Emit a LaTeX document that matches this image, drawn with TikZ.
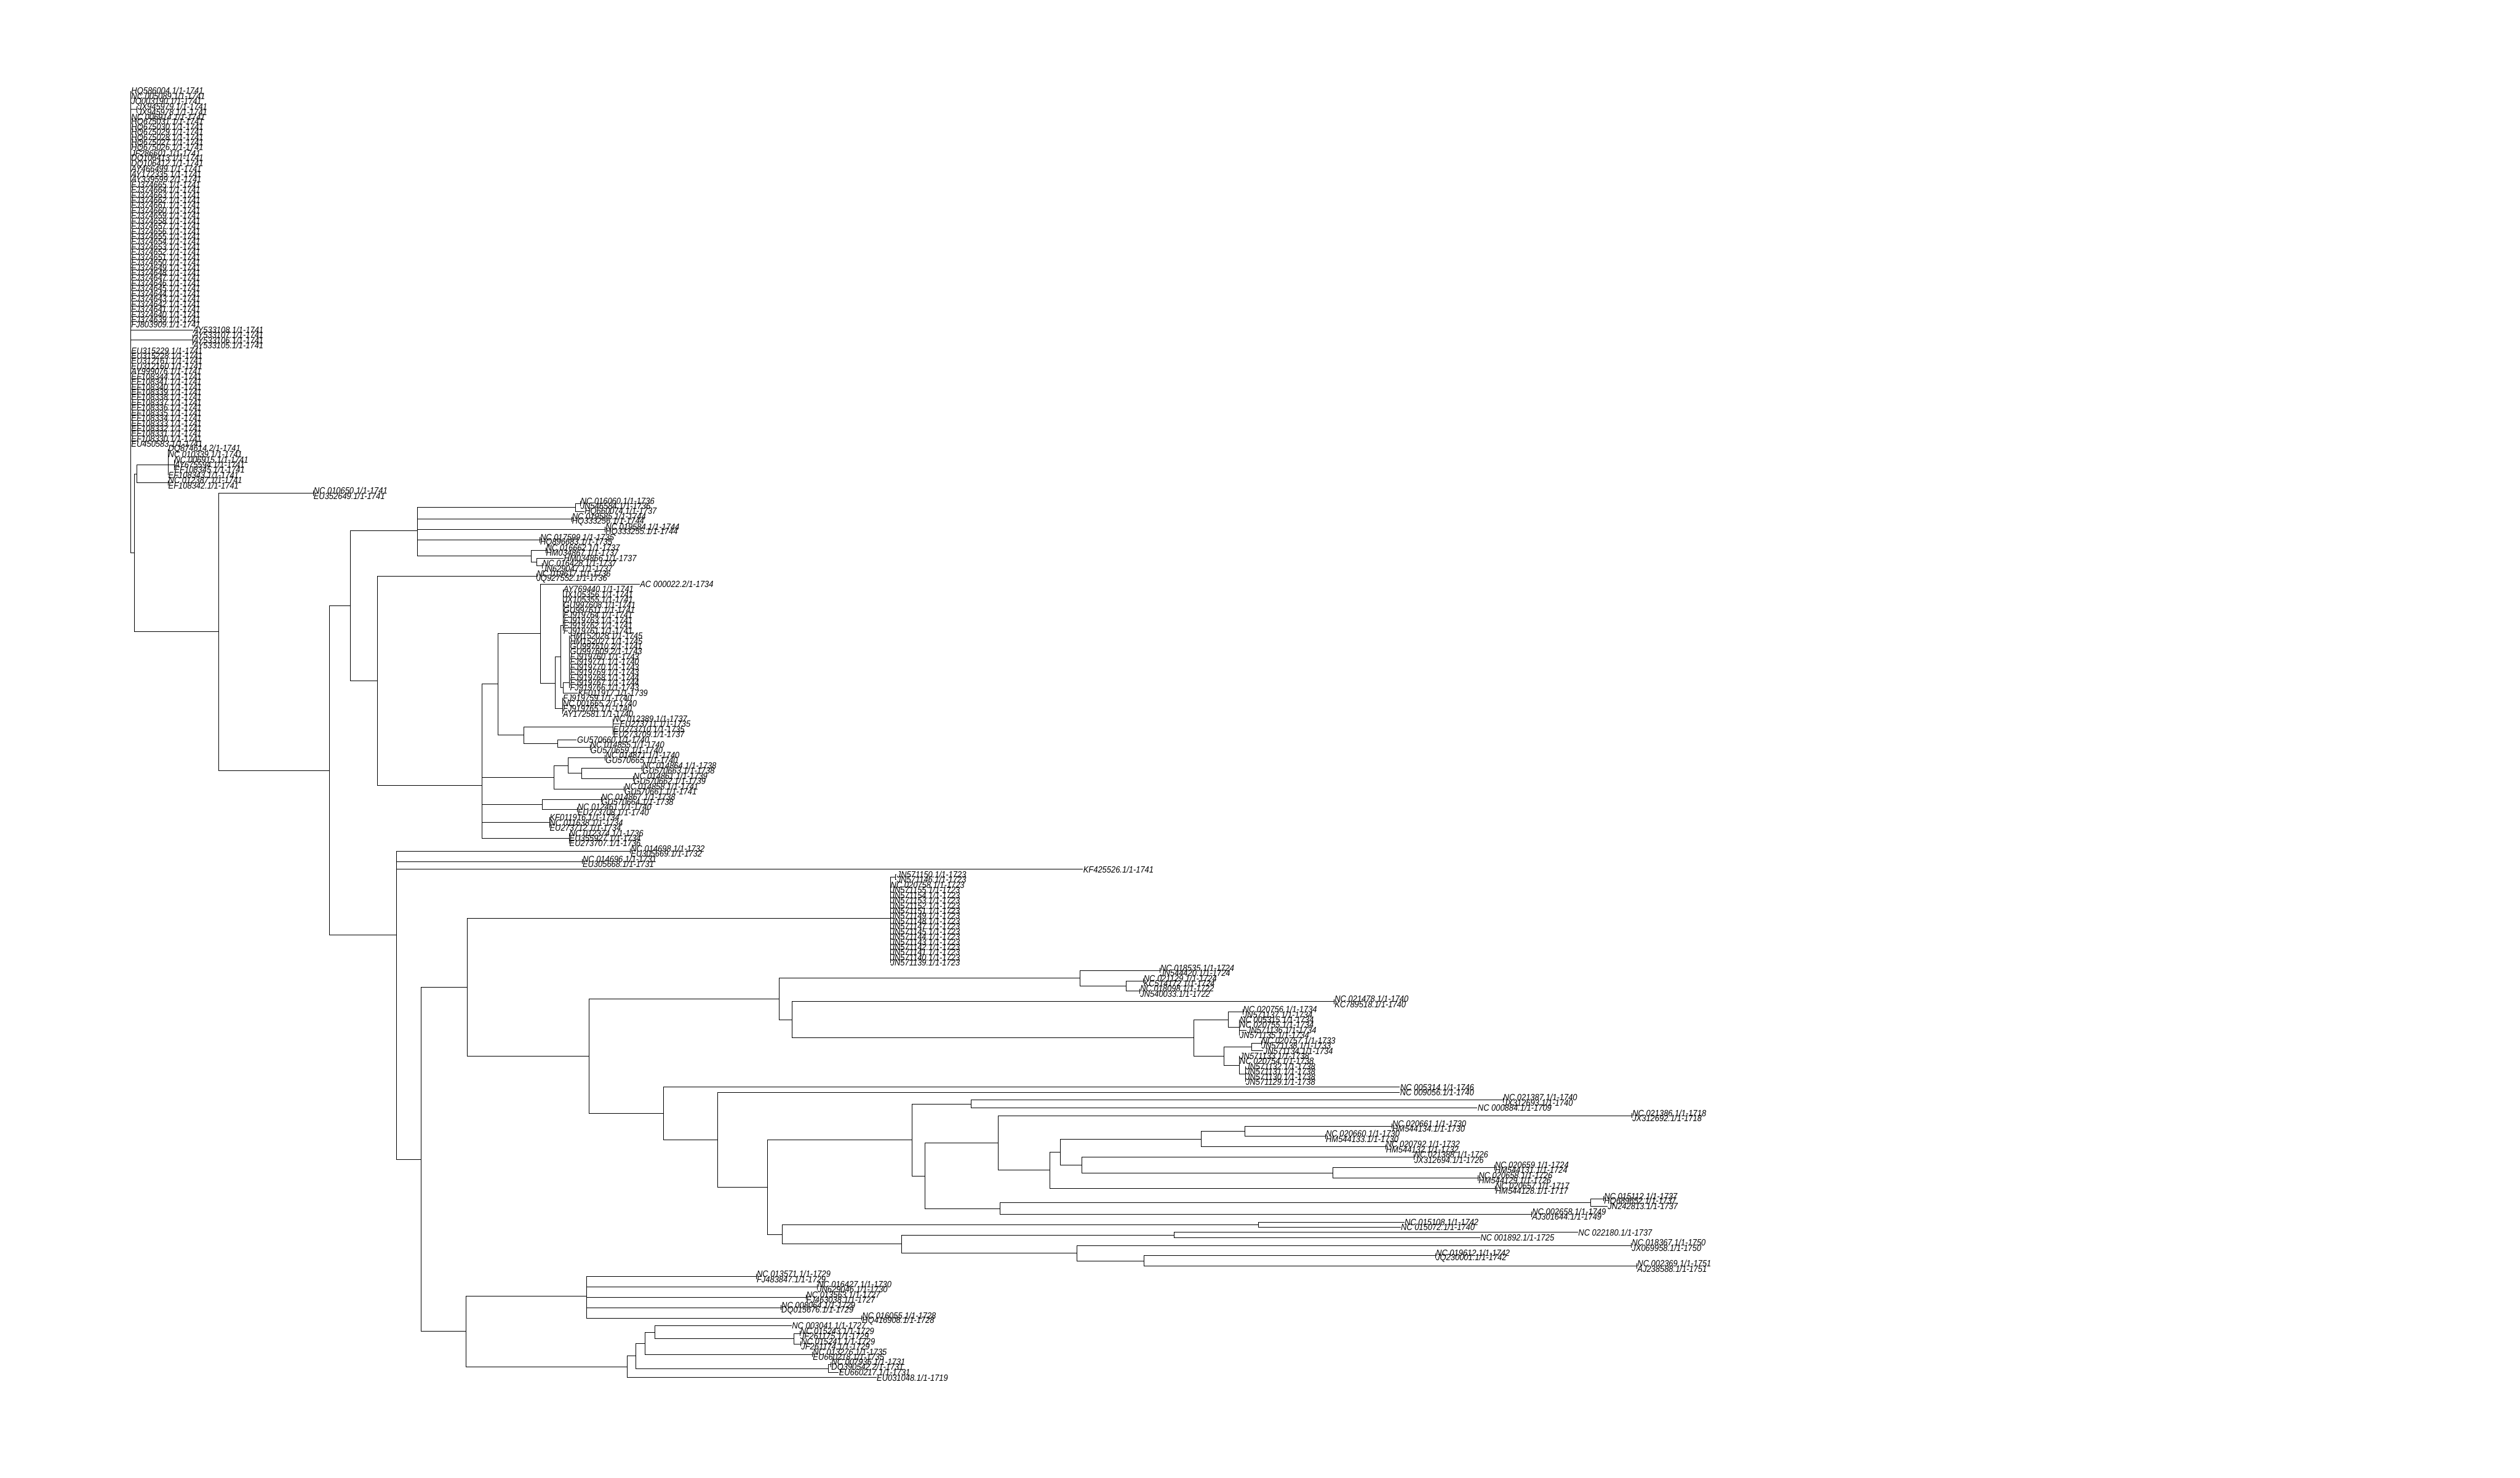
\documentclass[tikz,border=0pt]{standalone}
\usepackage{fontspec}
\newfontfamily\tipfont[FakeStretch=0.88]{Liberation Sans}
\usetikzlibrary{positioning}
\tikzset{
  branch/.style={draw=black,line width=0.3pt},
  leaf/.style={anchor=west,inner sep=0pt,font=\tipfont\itshape\fontsize{5.1}{5.5}\selectfont},
}
% inner node #1 with parent #2 at (#3,#4); tips #4 of \leafrow start at row #3
\newcommand{\cladeat}[4]{\coordinate (#1) at (#3,#4); \draw[branch] (#2) |- (#1);}
\newcommand{\leafrow}[4]{%
  \foreach \lab [count=\k from #3] in {#4} {
    \node[leaf] (t\k) at (#2,\k) {\lab};
    \draw[branch] (#1) |- (t\k.west);
  }}
\begin{document}
\begin{tikzpicture}[x=0.01cm,y=-0.1029cm]
\useasboundingbox (0cm,0cm) rectangle (50cm,-29.31cm);
\begin{scope}[yshift=-1.7071cm]
% top block
\coordinate (root) at (259.6,62.5);
\cladeat{nA}{root}{260}{35}
\leafrow{nA}{260}{1}{HQ586004.1/1-1741,NC 005089.1/1-1741,JQ003190.1/1-1741}
\cladeat{nJX}{nA}{271.7}{4.5}
\leafrow{nJX}{273}{4}{JX945979.1/1-1741,JX945978.1/1-1741}
\leafrow{nA}{260}{6}{NC 006914.1/1-1741,HQ675031.1/1-1741,HQ675030.1/1-1741,HQ675029.1/1-1741,HQ675028.1/1-1741,HQ675027.1/1-1741,HQ675026.1/1-1741,JF286601.1/1-1741,DQ106413.1/1-1741,DQ106412.1/1-1741,AY466499.1/1-1741,AY172335.1/1-1741,AY339599.2/1-1741}
\foreach \fj [count=\k from 19] in {665,664,...,639} {
  \node[leaf] (t\k) at (260,\k) {FJ374\fj.1/1-1741};
  \draw[branch] (nA) |- (t\k.west);
}
\leafrow{nA}{260}{46}{FJ803909.1/1-1741}
\leafrow{nA}{383}{47}{AY533108.1/1-1741}
\cladeat{nAY}{nA}{383}{49}
\leafrow{nAY}{383}{48}{AY533107.1/1-1741,AY533106.1/1-1741,AY533105.1/1-1741}
\leafrow{nA}{260}{51}{EU315229.1/1-1741,EU315228.1/1-1741,EU312161.1/1-1741,EU312160.1/1-1741,AY999076.1/1-1741,EF108344.1/1-1741,EF108341.1/1-1741}
\foreach \ef [count=\k from 58] in {340,339,...,330} {
  \node[leaf] (t\k) at (260,\k) {EF108\ef.1/1-1741};
  \draw[branch] (nA) |- (t\k.west);
}
\leafrow{nA}{260}{69}{EU450583.1/1-1741}
\cladeat{nB}{root}{266.8}{89.98}
\cladeat{nC}{nB}{272}{74.75}
\cladeat{nG}{nC}{333.6}{73}
\leafrow{nG}{333.6}{70}{DQ874614.2/1-1741,NC 010339.1/1-1741}
\cladeat{nF}{nG}{345.7}{73}
\leafrow{nF}{345.7}{72}{NC 006915.1/1-1741,AY675594.1/1-1741,EF108345.1/1-1741}
\leafrow{nG}{333.6}{75}{EF108343.1/1-1741}
\cladeat{nH}{nC}{333.6}{76.5}
\leafrow{nH}{333.6}{76}{NC 012387.1/1-1741,EF108342.1/1-1741}
% main clade
\cladeat{nR}{nB}{434}{105.2}
\cladeat{nP10650}{nR}{622}{78.5}
\leafrow{nP10650}{622}{78}{NC 010650.1/1-1741,EU352649.1/1-1741}
\cladeat{nR2}{nR}{654}{131.95}
\cladeat{nT}{nR2}{695}{100.2}
\cladeat{nT1}{nT}{829}{85.7}
\cladeat{nK1}{nT1}{1142.7}{81.25}
\cladeat{nP16060}{nK1}{1152}{80.5}
\leafrow{nP16060}{1152}{80}{NC 016060.1/1-1736,JN546584.1/1-1736}
\leafrow{nK1}{1160}{82}{HQ660074.1/1-1737}
\cladeat{nP19585}{nT1}{1135}{83.5}
\leafrow{nP19585}{1135}{83}{NC 019585.1/1-1744,HQ333256.1/1-1744}
\cladeat{nP19584}{nT1}{1201.7}{85.5}
\leafrow{nP19584}{1201.7}{85}{NC 019584.1/1-1744,HQ333255.1/1-1744}
\cladeat{nP17599}{nT1}{1071.7}{87.5}
\leafrow{nP17599}{1071.7}{87}{NC 017599.1/1-1735,HQ896683.1/1-1735}
\cladeat{n1055}{nT1}{1055}{90.6}
\cladeat{nP16662}{n1055}{1083.3}{89.5}
\leafrow{nP16662}{1083.3}{89}{NC 016662.1/1-1737,HM034867.1/1-1737}
\cladeat{n1066}{n1055}{1066}{91.75}
\leafrow{n1066}{1119}{91}{HM034866.1/1-1737}
\cladeat{nP16428}{n1066}{1076.7}{92.5}
\leafrow{nP16428}{1076.7}{92}{NC 016428.1/1-1737,JN629047.1/1-1737}
\cladeat{nT2}{nT}{749}{114.65}
\cladeat{nP19617}{nT2}{1065}{94.5}
\leafrow{nP19617}{1065}{94}{NC 019617.1/1-1736,JQ927552.1/1-1736}
\cladeat{nT3}{nT2}{957}{134.8}
\cladeat{nN1}{nT3}{989}{115.3}
\cladeat{nM}{nN1}{1073}{105.55}
\leafrow{nM}{1270}{96}{AC 000022.2/1-1734}
\cladeat{nQ}{nM}{1102.3}{115.1}
\cladeat{nQ1}{nQ}{1112.7}{110}
\cladeat{nQ1a}{nQ1}{1118}{104}
\leafrow{nQ1a}{1118}{97}{AY769440.1/1-1741,JX105356.1/1-1741,JX105355.1/1-1741,GU997608.1/1-1741,GU997611.1/1-1741,FJ919764.1/1-1741,FJ919763.1/1-1741,FJ919762.1/1-1741,FJ919761.1/1-1741}
\cladeat{nQ1b}{nQ1}{1118.3}{116}
\cladeat{nQ1c}{nQ1b}{1130}{115}
\leafrow{nQ1c}{1131}{106}{HM152028.1/1-1745,HM152027.1/1-1745,GU997610.2/1-1741,GU997609.2/1-1743,FJ919760.1/1-1743,FJ919771.1/1-1740,FJ919770.1/1-1743,FJ919769.1/1-1743,FJ919768.1/1-1744,FJ919767.1/1-1744,FJ919766.1/1-1743}
\leafrow{nQ1b}{1147}{117}{KF011917.1/1-1739}
\cladeat{nQ2}{nQ}{1116.7}{120}
\leafrow{nQ2}{1117}{118}{FJ919759.1/1-1740,NC 001665.2/1-1740,FJ919765.1/1-1740,AY172581.1/1-1740}
\cladeat{nN1b}{nN1}{1040}{125.1}
\cladeat{nP12389}{nN1b}{1216.7}{123.5}
\leafrow{nP12389}{1217}{122}{NC 012389.1/1-1737}
\leafrow{nP12389}{1230}{123}{EU273711.1/1-1735}
\leafrow{nP12389}{1217}{124}{EU273710.1/1-1735,EU273709.1/1-1737}
\cladeat{nGU660}{nN1b}{1107.3}{126.75}
\leafrow{nGU660}{1145}{126}{GU570660.1/1-1740}
\cladeat{nP14855}{nGU660}{1171.7}{127.5}
\leafrow{nP14855}{1171.7}{127}{NC 014855.1/1-1740,GU570659.1/1-1740}
\cladeat{n1100}{nT3}{1100}{133.25}
\cladeat{n1127}{n1100}{1127.3}{131}
\cladeat{nP14871}{n1127}{1201.7}{129.5}
\leafrow{nP14871}{1201.7}{129}{NC 014871.1/1-1740,GU570665.1/1-1740}
\cladeat{n1154}{n1127}{1154.3}{132.5}
\cladeat{nP14864}{n1154}{1275}{131.5}
\leafrow{nP14864}{1275}{131}{NC 014864.1/1-1738,GU570663.1/1-1738}
\cladeat{nP14861}{n1154}{1257.3}{133.5}
\leafrow{nP14861}{1257.3}{133}{NC 014861.1/1-1739,GU570662.1/1-1739}
\cladeat{nP14858}{n1100}{1239.3}{135.5}
\leafrow{nP14858}{1239.3}{135}{NC 014858.1/1-1741,GU570661.1/1-1741}
\cladeat{n1076}{nT3}{1076}{138.5}
\cladeat{nP14867}{n1076}{1193.3}{137.5}
\leafrow{nP14867}{1193.3}{137}{NC 014867.1/1-1738,GU570664.1/1-1738}
\cladeat{nP12461}{n1076}{1146}{139.5}
\leafrow{nP12461}{1146}{139}{NC 012461.1/1-1740,EU273708.1/1-1740}
\cladeat{nK16}{nT3}{1090.7}{142}
\leafrow{nK16}{1090.7}{141}{KF011916.1/1-1734,NC 011638.1/1-1734,EU273712.1/1-1734}
\cladeat{nK12374}{nT3}{1130}{145}
\leafrow{nK12374}{1130}{144}{NC 012374.1/1-1736,EU355927.1/1-1734,EU273707.1/1-1736}
% lower half
\cladeat{nS}{nR2}{787}{163.7}
\cladeat{nP14698}{nS}{1251.7}{147.5}
\leafrow{nP14698}{1251.7}{147}{NC 014698.1/1-1732,EU305669.1/1-1732}
\cladeat{nP14696}{nS}{1156}{149.5}
\leafrow{nP14696}{1156}{149}{NC 014696.1/1-1731,EU305668.1/1-1731}
\leafrow{nS}{2150}{151}{KF425526.1/1-1741}
\cladeat{nS2}{nS}{836}{206.9}
\cladeat{nK}{nS2}{928}{173.75}
\cladeat{nJN}{nK}{1767.5}{160.5}
\cladeat{nP571150}{nJN}{1778}{152.5}
\leafrow{nP571150}{1780}{152}{JN571150.1/1-1723,JN571146.1/1-1723}
\leafrow{nJN}{1767.5}{154}{NC 020758.1/1-1723,JN571155.1/1-1723,JN571154.1/1-1723,JN571153.1/1-1723,JN571152.1/1-1723,JN571151.1/1-1723,JN571149.1/1-1723,JN571148.1/1-1723,JN571147.1/1-1723,JN571145.1/1-1723,JN571144.1/1-1723,JN571143.1/1-1723,JN571142.1/1-1723,JN571141.1/1-1723,JN571140.1/1-1723,JN571139.1/1-1723}
\cladeat{nK2}{nK}{1170}{187}
\cladeat{nG1}{nK2}{1546.5}{176}
\cladeat{nX1}{nG1}{2144.6}{172}
\cladeat{nP18535}{nX1}{2303}{170.5}
\leafrow{nP18535}{2303}{170}{NC 018535.1/1-1724,JN544420.1/1-1724}
\cladeat{n2235}{nX1}{2235.3}{173.5}
\cladeat{nP21129}{n2235}{2269.6}{172.5}
\leafrow{nP21129}{2269.6}{172}{NC 021129.1/1-1724,KC514172.1/1-1724}
\cladeat{nP18098}{n2235}{2263}{174.5}
\leafrow{nP18098}{2263}{174}{NC 018098.1/1-1722,JN540033.1/1-1722}
\cladeat{nG2}{nG1}{1572}{180}
\cladeat{nP21478}{nG2}{2649}{176.5}
\leafrow{nP21478}{2649}{176}{NC 021478.1/1-1740,KC789518.1/1-1740}
\cladeat{n2369}{nG2}{2369.6}{183.5}
\cladeat{n2438}{n2369}{2438.4}{180}
\cladeat{nP20756}{n2438}{2467.4}{178.5}
\leafrow{nP20756}{2467.4}{178}{NC 020756.1/1-1734,JN571137.1/1-1734}
\cladeat{n2460a}{n2438}{2460.7}{181.5}
\leafrow{n2460a}{2460.7}{180}{NC 005315.1/1-1734,NC 020755.1/1-1734}
\leafrow{n2460a}{2475}{182}{JN571136.1/1-1734}
\leafrow{n2460a}{2460.7}{183}{JN571135.1/1-1734}
\cladeat{n2429}{n2369}{2429.5}{187}
\cladeat{n2484}{n2429}{2484.8}{185.25}
\cladeat{nP20757}{n2484}{2504}{184.5}
\leafrow{nP20757}{2504}{184}{NC 020757.1/1-1733,JN571138.1/1-1733}
\leafrow{n2484}{2508}{186}{JN571134.1/1-1734}
\cladeat{n2460b}{n2429}{2460.7}{188.75}
\leafrow{n2460b}{2460.7}{187}{JN571133.1/1-1738,NC 020754.1/1-1738}
\cladeat{n2472}{n2460b}{2472.8}{190.5}
\leafrow{n2472}{2472.8}{189}{JN571132.1/1-1738,JN571131.1/1-1738,JN571130.1/1-1738,JN571129.1/1-1738}
\cladeat{nH1}{nK2}{1317}{198}
\leafrow{nH1}{2779}{193}{NC 005314.1/1-1746}
\cladeat{nHB}{nH1}{1425}{203.15}
\leafrow{nHB}{2779}{194}{NC 009056.1/1-1740}
\cladeat{nHC}{nHB}{1524}{212.3}
\cladeat{nU}{nHC}{1810.6}{203.2}
\cladeat{n1927}{nU}{1927.6}{196.25}
\cladeat{nP21387}{n1927}{2984}{195.5}
\leafrow{nP21387}{2984}{195}{NC 021387.1/1-1740,JX312693.1/1-1740}
\leafrow{n1927}{2933}{197}{NC 000884.1/1-1709}
\cladeat{nV}{nU}{1836.6}{210.1}
\cladeat{nW}{nV}{1981.3}{203.75}
\cladeat{nP21386}{nW}{3240}{198.5}
\leafrow{nP21386}{3240}{198}{NC 021386.1/1-1718,JX312692.1/1-1718}
\cladeat{nX}{nW}{2083.7}{209}
\cladeat{nY}{nX}{2105.4}{205.5}
\cladeat{nZ}{nY}{2384.6}{203}
\cladeat{n2471}{nZ}{2471.3}{201.5}
\cladeat{nP20661}{n2471}{2763.5}{200.5}
\leafrow{nP20661}{2763.5}{200}{NC 020661.1/1-1730,HM544134.1/1-1730}
\cladeat{nP20660}{n2471}{2631.6}{202.5}
\leafrow{nP20660}{2631.6}{202}{NC 020660.1/1-1730,HM544133.1/1-1730}
\cladeat{nP20792}{nZ}{2750.9}{204.5}
\leafrow{nP20792}{2750.9}{204}{NC 020792.1/1-1732,HM544132.1/1-1732}
\cladeat{n2147}{nY}{2147.7}{208}
\cladeat{nP21388}{n2147}{2807}{206.5}
\leafrow{nP21388}{2807}{206}{NC 021388.1/1-1726,JX312694.1/1-1726}
\cladeat{n2645}{n2147}{2645.6}{209.5}
\cladeat{nP20659}{n2645}{2967}{208.5}
\leafrow{nP20659}{2967}{208}{NC 020659.1/1-1724,HM544131.1/1-1724}
\cladeat{nP20658}{n2645}{2934.7}{210.5}
\leafrow{nP20658}{2934.7}{210}{NC 020658.1/1-1726,HM544129.1/1-1726}
\cladeat{nP20657}{nX}{2968.4}{212.5}
\leafrow{nP20657}{2968.4}{212}{NC 020657.1/1-1717,HM544128.1/1-1717}
\cladeat{n1985}{nV}{1985.6}{216.4}
\cladeat{n3158}{n1985}{3158.4}{215.25}
\cladeat{nP15112}{n3158}{3184}{214.5}
\leafrow{nP15112}{3184}{214}{NC 015112.1/1-1737,HQ689652.1/1-1737}
\leafrow{n3158}{3191.4}{216}{JN242813.1/1-1737}
\cladeat{nP02658}{n1985}{3041}{217.5}
\leafrow{nP02658}{3041}{217}{NC 002658.1/1-1749,AJ301644.1/1-1749}
\cladeat{nHD}{nHC}{1553}{221.4}
\cladeat{nP15108}{nHD}{2498}{219.5}
\leafrow{nP15108}{2788}{219}{NC 015108.1/1-1742}
\leafrow{nP15108}{2780.5}{220}{NC 015072.1/1-1740}
\cladeat{n1789}{nHD}{1789.4}{223.25}
\cladeat{n2331}{n1789}{2331}{221.5}
\leafrow{n2331}{3132.7}{221}{NC 022180.1/1-1737}
\leafrow{n2331}{2938.3}{222}{NC 001892.1/1-1725}
\cladeat{n2137}{n1789}{2137.9}{225}
\cladeat{nP18367}{n2137}{3239}{223.5}
\leafrow{nP18367}{3239}{223}{NC 018367.1/1-1750,JX069958.1/1-1750}
\cladeat{n2271}{n2137}{2271.3}{226.5}
\cladeat{nP19612}{n2271}{2850.3}{225.5}
\leafrow{nP19612}{2850.3}{225}{NC 019612.1/1-1742,JQ230001.1/1-1742}
\cladeat{nP02369}{n2271}{3250}{227.5}
\leafrow{nP02369}{3250}{227}{NC 002369.1/1-1751,AJ238588.1/1-1751}
% bottom clade
\cladeat{nL}{nS2}{925}{240.1}
\cladeat{nL1}{nL}{1164}{233.3}
\cladeat{nP13571}{nL1}{1501.7}{229.5}
\leafrow{nP13571}{1501.7}{229}{NC 013571.1/1-1729,FJ483847.1/1-1729}
\cladeat{nP16427}{nL1}{1622.7}{231.5}
\leafrow{nP16427}{1622.7}{231}{NC 016427.1/1-1730,JN629046.1/1-1730}
\cladeat{nP13563}{nL1}{1600}{233.5}
\leafrow{nP13563}{1600}{233}{NC 013563.1/1-1727,FJ463038.1/1-1727}
\cladeat{nP08064}{nL1}{1550.7}{235.5}
\leafrow{nP08064}{1550.7}{235}{NC 008064.1/1-1729,DQ015676.1/1-1729}
\cladeat{nP16055}{nL1}{1711}{237.5}
\leafrow{nP16055}{1711}{237}{NC 016055.1/1-1728,HQ416908.1/1-1728}
\cladeat{nL2}{nL}{1245}{246.9}
\leafrow{nL2}{1740}{249}{EU031048.1/1-1719}
\cladeat{nL2c}{nL2}{1262}{244.8}
\cladeat{n1644}{nL2c}{1644.3}{247.25}
\cladeat{nP07936}{n1644}{1650}{246.5}
\leafrow{nP07936}{1650}{246}{NC 007936.1/1-1731,DQ390542.2/1-1731}
\leafrow{n1644}{1665}{248}{EU660217.1/1-1731}
\cladeat{nL2b}{nL2c}{1280}{242.4}
\cladeat{nP13276}{nL2b}{1613.3}{244.5}
\leafrow{nP13276}{1613.3}{244}{NC 013276.1/1-1735,EU660218.1/1-1735}
\cladeat{nL2a}{nL2b}{1300}{240.25}
\leafrow{nL2a}{1571.7}{239}{NC 003041.1/1-1727}
\cladeat{n1576}{nL2a}{1576}{241.5}
\cladeat{nP15243}{n1576}{1588.3}{240.5}
\leafrow{nP15243}{1588.3}{240}{NC 015243.1/1-1729,JF261175.1/1-1729}
\cladeat{nP15241}{n1576}{1590}{242.5}
\leafrow{nP15241}{1590}{242}{NC 015241.1/1-1729,JF261174.1/1-1729}
\end{scope}
\end{tikzpicture}
\end{document}
